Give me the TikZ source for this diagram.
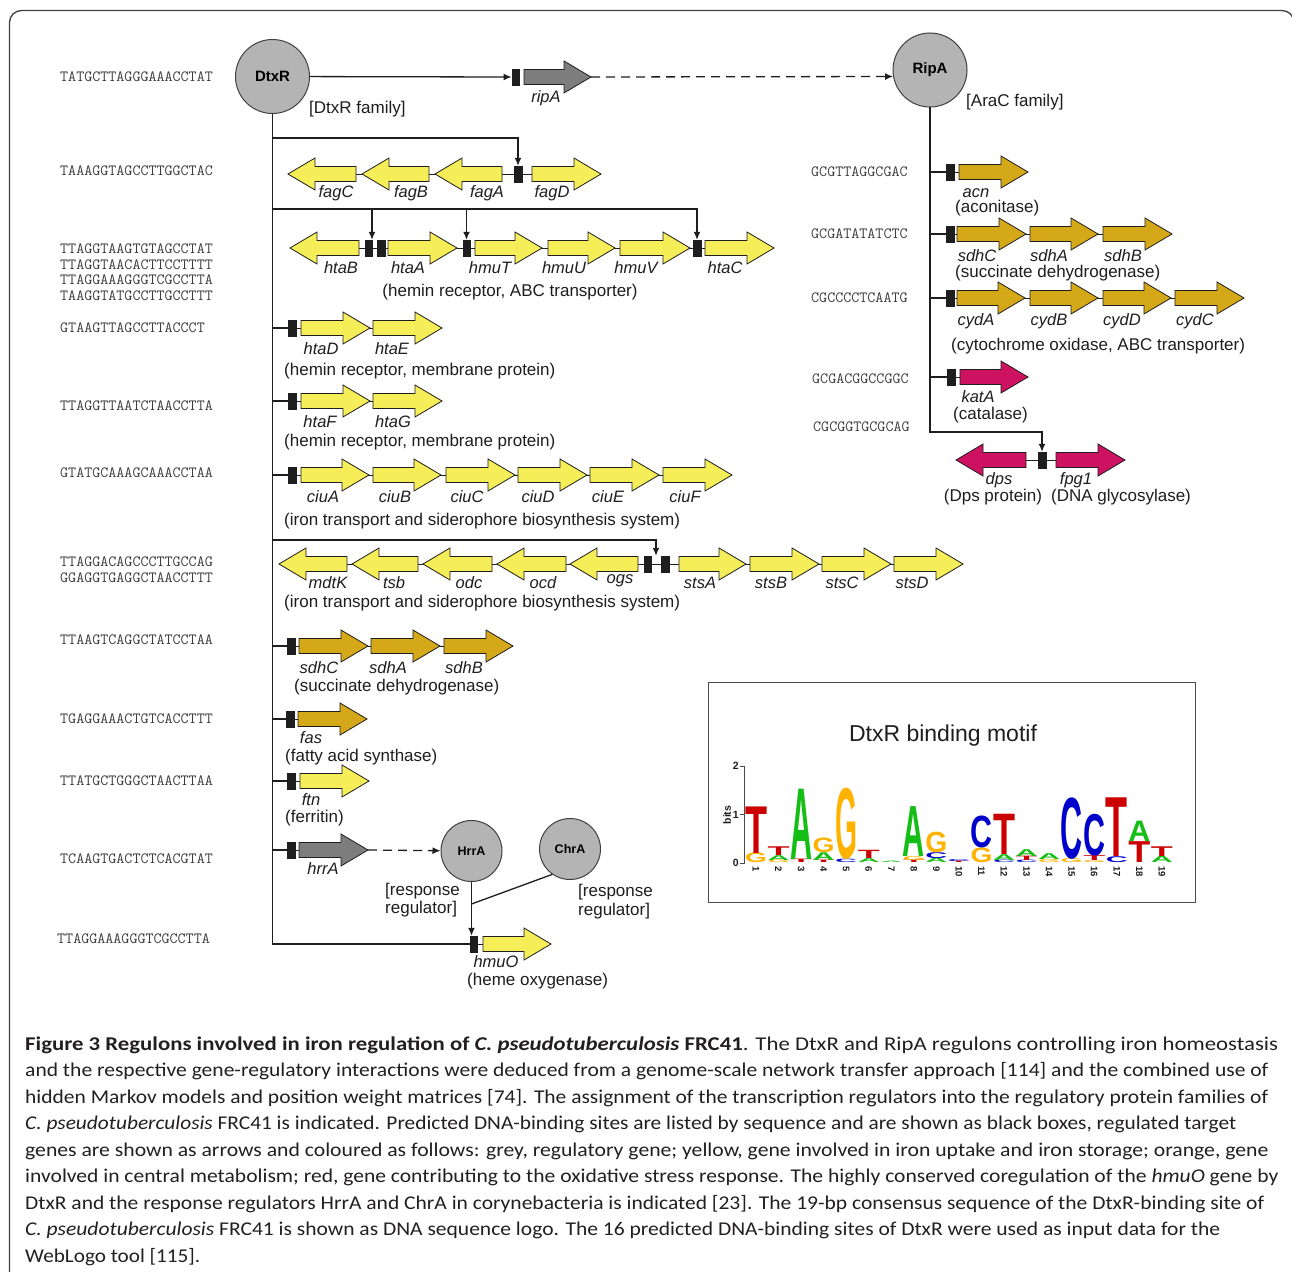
\documentclass[tikz,border=0pt]{standalone}
\usepackage{fontspec}
\setmainfont{Liberation Sans}
\newfontfamily\capf{Carlito}
\usepackage{graphicx}
\usetikzlibrary{arrows.meta}
\definecolor{gy}{RGB}{246,238,88}
\definecolor{go}{RGB}{212,168,24}
\definecolor{gred}{RGB}{204,18,96}
\definecolor{ggray}{RGB}{125,125,125}
\definecolor{cgray}{RGB}{180,180,180}
\definecolor{ink}{RGB}{30,30,30}
\definecolor{seqc}{RGB}{60,60,60}
\definecolor{capc}{RGB}{35,31,32}
\definecolor{LA}{RGB}{20,190,20}
\definecolor{LC}{RGB}{0,0,204}
\definecolor{LG}{RGB}{255,179,0}
\definecolor{LT}{RGB}{204,0,0}
\newcommand\geneR[4]{\filldraw[gene,fill=#4] (#1,{#3-7.5}) -- ({#2-27},{#3-7.5}) -- ({#2-27},{#3-16}) -- (#2,#3) -- ({#2-27},{#3+16}) -- ({#2-27},{#3+7.5}) -- (#1,{#3+7.5}) -- cycle;}
\newcommand\geneL[4]{\filldraw[gene,fill=#4] (#2,{#3-7.5}) -- ({#1+27},{#3-7.5}) -- ({#1+27},{#3-16}) -- (#1,#3) -- ({#1+27},{#3+16}) -- ({#1+27},{#3+7.5}) -- (#2,{#3+7.5}) -- cycle;}
\newcommand\logoL[5]{\pgfmathsetmacro\mylh{#3*48.5}\pgfmathsetmacro\myly{863-#2*48.5}\pgfmathsetmacro\mylx{756+(#1-1)*22.55}\node[anchor=south,inner sep=0,text=#5] at (\mylx,\myly) {\resizebox{22pt}{\mylh pt}{\bfseries #4}};}
\newcommand\capline[3]{\node[anchor=base west,inner sep=0,text=capc] at (25,#1) {\resizebox{#2pt}{\height}{\capf\fontsize{19.5}{22}\selectfont #3}};}
\begin{document}
\begin{tikzpicture}[x=1pt,y=-1pt,
  conn/.style={line width=1.3pt,draw=ink},
  thinl/.style={line width=1pt,draw=ink},
  arr/.style={-{Latex[length=8pt,width=7pt]}},
  gene/.style={draw=ink,line width=0.8pt},
  site/.style={draw=ink,fill=ink,minimum width=7.5pt,minimum height=16pt,inner sep=0,line width=0.4pt},
  reg/.style={circle,draw=ink!85,line width=1pt,fill=cgray,inner sep=0,minimum size=74pt,font=\bfseries\fontsize{15}{15}\selectfont},
  sreg/.style={reg,minimum size=61pt,font=\bfseries\fontsize{12.5}{12.5}\selectfont},
  seq/.style={anchor=west,inner sep=0,font=\ttfamily\fontsize{15.6}{16}\selectfont,text=seqc},
  glab/.style={inner sep=0,font=\itshape\fontsize{16.5}{17}\selectfont,text=ink},
  desc/.style={anchor=west,inner sep=0,font=\fontsize{17}{17}\selectfont,text=ink},
  mono/.style={inner sep=0,font=\bfseries\fontsize{10.5}{11}\selectfont,text=ink}]
\useasboundingbox (0,0) rectangle (1292,1271);
\fill[white] (0,0) rectangle (1292,1271);
% frame
\draw[draw=ink!85,line width=1.3pt,rounded corners=12pt] (9.5,1275) -- (9.5,10.5) -- (1294,10.5) -- (1294,40);

% sequences DtxR
\node[seq] (q1) at (60,77) {TATGCTTAGGGAAACCTAT};
\node[seq] (q2) at (60,171) {TAAAGGTAGCCTTGGCTAC};
\node[seq] (q3) at (60,249) {TTAGGTAAGTGTAGCCTAT};
\node[seq] (q4) at (60,264.5) {TTAGGTAACACTTCCTTTT};
\node[seq] (q5) at (60,280) {TTAGGAAAGGGTCGCCTTA};
\node[seq] (q6) at (60,295.5) {TAAGGTATGCCTTGCCTTT};
\node[seq] (q7) at (60,327.5) {GTAAGTTAGCCTTACCCT};
\node[seq] (q8) at (60,405.5) {TTAGGTTAATCTAACCTTA};
\node[seq] (q9) at (60,473) {GTATGCAAAGCAAACCTAA};
\node[seq] (q10) at (60,562) {TTAGGACAGCCCTTGCCAG};
\node[seq] (q11) at (60,578) {GGAGGTGAGGCTAACCTTT};
\node[seq] (q12) at (60,640) {TTAAGTCAGGCTATCCTAA};
\node[seq] (q13) at (60,718.5) {TGAGGAAACTGTCACCTTT};
\node[seq] (q14) at (60,781) {TTATGCTGGGCTAACTTAA};
\node[seq] (q15) at (60,859) {TCAAGTGACTCTCACGTAT};
\node[seq] (q16) at (57,939) {TTAGGAAAGGGTCGCCTTA};
% sequences RipA
\node[seq] (p1) at (811,172) {GCGTTAGGCGAC};
\node[seq] (p2) at (811,234) {GCGATATATCTC};
\node[seq] (p3) at (811,298) {CGCCCCTCAATG};
\node[seq] (p4) at (812,379) {GCGACGGCCGGC};
\node[seq] (p5) at (813,427) {CGCGGTGCGCAG};

% regulators
\node[reg] (dtxr) at (272.5,76.5) {DtxR};
\node[reg] (ripa) at (930,70) {RipA};
\node[sreg] (hrra) at (471.5,851) {HrrA};
\node[sreg] (chra) at (570,849) {ChrA};
\node[desc] (fam1) at (309,109) {[DtxR family]};
\node[desc] (fam2) at (966,102) {[AraC family]};

% sites
\node[site] (sR) at (515.5,77) {};
\node[site] (sF) at (518,174) {};
\node[site] (sH1) at (368.5,248) {};
\node[site] (sH2) at (381,248) {};
\node[site] (sH3) at (466.5,248) {};
\node[site] (sH4) at (697,248) {};
\node[site] (sD) at (292,328) {};
\node[site] (sG) at (292,401) {};
\node[site] (sC) at (292,475) {};
\node[site] (sS1) at (647.5,564) {};
\node[site] (sS2) at (665,564) {};
\node[site] (sSdh) at (291,646) {};
\node[site] (sFas) at (290,719) {};
\node[site] (sFtn) at (291,781) {};
\node[site] (sHrr) at (291,850) {};
\node[site] (sHmu) at (473.5,944) {};
\node[site] (rAcn) at (950,172) {};
\node[site] (rSdh) at (950,234) {};
\node[site] (rCyd) at (950,298) {};
\node[site] (rKat) at (951,377) {};
\node[site] (rDps) at (1042,460) {};

% junction coordinates
\coordinate (ripAtip) at (591,77);
\coordinate (hrrAtip) at (368,850);
\coordinate (j1) at (272.5,138);
\coordinate (j2) at (272.5,209);
\coordinate (d1) at (372,209);
\coordinate (d2) at (466.5,209);
\coordinate (j3) at (272.5,540);
\coordinate (d3) at (656,540);
\coordinate (j4) at (930,432);
\coordinate (jc) at (471.5,904);

% DtxR connectors
\draw[conn,arr] (dtxr) -- (sR.west);
\draw[conn,dashed,dash pattern=on 9pt off 6pt,arr] (ripAtip) -- (ripa.190);
\draw[conn] (dtxr.south) -- (dtxr.south |- sHmu) -- (sHmu.west);
\draw[conn,arr] (j1) -| (sF.north);
\draw[conn,arr] (j2) -| (sH4.north);
\draw[conn,arr] (d1) -- (d1 |- sH1.north);
\draw[conn,arr] (d2) -- (sH3.north);
\draw[conn,arr] (j3) -- (d3) -- (d3 |- sS1.north);
\draw[conn] (dtxr.south |- sD) -- (sD.west);
\draw[conn] (dtxr.south |- sG) -- (sG.west);
\draw[conn] (dtxr.south |- sC) -- (sC.west);
\draw[conn] (dtxr.south |- sSdh) -- (sSdh.west);
\draw[conn] (dtxr.south |- sFas) -- (sFas.west);
\draw[conn] (dtxr.south |- sFtn) -- (sFtn.west);
\draw[conn] (dtxr.south |- sHrr) -- (sHrr.west);
\draw[conn,dashed,dash pattern=on 9pt off 6pt,arr] (hrrAtip) -- (hrra);
\draw[conn,arr] (hrra.south) -- (hrra.south |- sHmu.north);
\draw[conn] (chra.235) -- (jc);
% RipA connectors
\draw[conn,arr] (ripa.south) -- (j4) -| (rDps.north);
\draw[conn] (ripa.south |- rAcn) -- (rAcn.west);
\draw[conn] (ripa.south |- rSdh) -- (rSdh.west);
\draw[conn] (ripa.south |- rCyd) -- (rCyd.west);
\draw[conn] (ripa.south |- rKat) -- (rKat.west);

% row through lines
\draw[thinl] (340,174) -- (540,174);
\draw[thinl] (340,248) -- (710,248);
\draw[thinl] (sD) -- (380,328);
\draw[thinl] (sG) -- (380,401);
\draw[thinl] (sC) -- (700,475);
\draw[thinl] (330,564) -- (690,564);
\draw[thinl] (690,564) -- (930,564);
\draw[thinl] (sSdh) -- (480,646);
\draw[thinl] (sFas) -- (310,719);
\draw[thinl] (sFtn) -- (310,781);
\draw[thinl] (sHrr) -- (310,850);
\draw[thinl] (sHmu) -- (490,944);
\draw[thinl] (rAcn) -- (970,172);
\draw[thinl] (rSdh) -- (1150,234);
\draw[thinl] (rCyd) -- (1220,298);
\draw[thinl] (rKat) -- (970,377);
\draw[thinl] (1010,460) -- (1070,460);

% genes DtxR
\geneR{524}{591}{77}{ggray}
\geneL{288}{356}{174}{gy}\geneL{362}{429}{174}{gy}\geneL{435}{502}{174}{gy}\geneR{532}{601}{174}{gy}
\geneL{290}{359}{248}{gy}\geneR{388}{457}{248}{gy}\geneR{475}{542}{248}{gy}\geneR{548}{615}{248}{gy}\geneR{620}{690}{248}{gy}\geneR{705}{774}{248}{gy}
\geneR{301}{370}{328}{gy}\geneR{373}{442}{328}{gy}
\geneR{301}{370}{401}{gy}\geneR{373}{442}{401}{gy}
\geneR{301}{369}{475}{gy}\geneR{373}{441}{475}{gy}\geneR{446}{515}{475}{gy}\geneR{518}{587}{475}{gy}\geneR{590}{659}{475}{gy}\geneR{663}{732}{475}{gy}
\geneL{279}{347}{564}{gy}\geneL{352}{418}{564}{gy}\geneL{423}{492}{564}{gy}\geneL{497}{566}{564}{gy}\geneL{570}{638}{564}{gy}
\geneR{679}{746}{564}{gy}\geneR{750}{819}{564}{gy}\geneR{822}{891}{564}{gy}\geneR{894}{963}{564}{gy}
\geneR{299}{368}{646}{go}\geneR{371}{440}{646}{go}\geneR{444}{513}{646}{go}
\geneR{298}{367}{719}{go}
\geneR{300}{369}{781}{gy}
\geneR{299}{368}{850}{ggray}
\geneR{483}{551}{944}{gy}
% genes RipA
\geneR{959}{1028}{172}{go}
\geneR{957}{1026}{234}{go}\geneR{1030}{1098}{234}{go}\geneR{1103}{1172}{234}{go}
\geneR{957}{1025}{298}{go}\geneR{1030}{1098}{298}{go}\geneR{1103}{1171}{298}{go}\geneR{1175}{1244}{298}{go}
\geneR{960}{1028}{377}{gred}
\geneL{956}{1026}{460}{gred}\geneR{1056}{1125}{460}{gred}

% redraw sites on top
\foreach \s in {sR,sF,sH1,sH2,sH3,sH4,sD,sG,sC,sS1,sS2,sSdh,sFas,sFtn,sHrr,sHmu,rAcn,rSdh,rCyd,rKat,rDps}
  \fill[ink] (\s.south west) rectangle (\s.north east);

% gene labels
\node[glab] (l1) at (546,98) {ripA};
\node[glab] (l2) at (336,193) {fagC};
\node[glab] (l3) at (411,193) {fagB};
\node[glab] (l4) at (487,193) {fagA};
\node[glab] (l5) at (552,193) {fagD};
\node[glab] (l6) at (341,268) {htaB};
\node[glab] (l7) at (408,268) {htaA};
\node[glab] (l8) at (490,268) {hmuT};
\node[glab] (l9) at (564,268) {hmuU};
\node[glab] (l10) at (636,268) {hmuV};
\node[glab] (l11) at (725,268) {htaC};
\node[desc,anchor=center] (t1) at (510,292) {(hemin receptor, ABC transporter)};
\node[glab] (l12) at (321,349) {htaD};
\node[glab] (l13) at (392,349) {htaE};
\node[desc] (t2) at (284,371) {(hemin receptor, membrane protein)};
\node[glab] (l14) at (320,422) {htaF};
\node[glab] (l15) at (393,422) {htaG};
\node[desc] (t3) at (284,442) {(hemin receptor, membrane protein)};
\node[glab] (l16) at (323,497) {ciuA};
\node[glab] (l17) at (395,497) {ciuB};
\node[glab] (l18) at (467,497) {ciuC};
\node[glab] (l19) at (538,497) {ciuD};
\node[glab] (l20) at (608,497) {ciuE};
\node[glab] (l21) at (685,497) {ciuF};
\node[desc] (t4) at (284,521) {(iron transport and siderophore biosynthesis system)};
\node[glab] (l22) at (328,583) {mdtK};
\node[glab] (l23) at (394,583) {tsb};
\node[glab] (l24) at (469,583) {odc};
\node[glab] (l25) at (543,583) {ocd};
\node[glab] (l26) at (620,581) {ogs};
\node[glab] (l27) at (700,583) {stsA};
\node[glab] (l28) at (771,583) {stsB};
\node[glab] (l29) at (842,583) {stsC};
\node[glab] (l30) at (912,583) {stsD};
\node[desc] (t5) at (284,603) {(iron transport and siderophore biosynthesis system)};
\node[glab] (l31) at (319,668) {sdhC};
\node[glab] (l32) at (388,668) {sdhA};
\node[glab] (l33) at (464,668) {sdhB};
\node[desc] (t6) at (294,687) {(succinate dehydrogenase)};
\node[glab] (l34) at (311,738) {fas};
\node[desc] (t7) at (285,757) {(fatty acid synthase)};
\node[glab] (l35) at (311,800) {ftn};
\node[desc] (t8) at (285,818) {(ferritin)};
\node[glab] (l36) at (323,869) {hrrA};
\node[desc] (t9) at (385,891) {[response};
\node[desc] (t10) at (385,909) {regulator]};
\node[desc] (t11) at (578,892) {[response};
\node[desc] (t12) at (578,911) {regulator]};
\node[glab] (l37) at (496,962) {hmuO};
\node[desc] (t13) at (467,981) {(heme oxygenase)};
% RipA labels
\node[glab] (m1) at (976,193) {acn};
\node[desc] (u1) at (955,208) {(aconitase)};
\node[glab] (m2) at (977,256) {sdhC};
\node[glab] (m3) at (1049,256) {sdhA};
\node[glab] (m4) at (1123,256) {sdhB};
\node[desc] (u2) at (955,273) {(succinate dehydrogenase)};
\node[glab] (m5) at (976,321) {cydA};
\node[glab] (m6) at (1049,321) {cydB};
\node[glab] (m7) at (1122,321) {cydD};
\node[glab] (m8) at (1195,321) {cydC};
\node[desc] (u3) at (951,346) {(cytochrome oxidase, ABC transporter)};
\node[glab] (m9) at (978,397) {katA};
\node[desc] (u4) at (953,415) {(catalase)};
\node[glab] (m10) at (999,480) {dps};
\node[glab] (m11) at (1076,480) {fpg1};
\node[desc,anchor=center] (u5) at (993,497) {(Dps protein)};
\node[desc,anchor=center] (u6) at (1121,497) {(DNA glycosylase)};

% motif logo
\draw[draw=ink!80,line width=1pt] (708,682) rectangle (1195,902);
\node[inner sep=0,font=\fontsize{23}{23}\selectfont,text=ink] (mt) at (943,736) {DtxR binding motif};
\draw[draw=ink!80,line width=0.9pt] (744.5,766) -- (744.5,863);
\foreach \yy in {766,814.5,863} \draw[draw=ink!80,line width=0.9pt] (740,\yy) -- (744.5,\yy);
\node[mono,anchor=east] (ax2) at (739,766) {2};
\node[mono,anchor=east] (ax1) at (739,814.5) {1};
\node[mono,anchor=east] (ax0) at (739,863) {0};
\node[mono,rotate=90] (bits) at (727,815) {bits};
\foreach \n in {1,...,19} \node[mono,rotate=-90,anchor=west,font=\bfseries\fontsize{9.5}{10}\selectfont] at ({756+(\n-1)*22.55},866) {\n};
\logoL{1}{0}{0.2}{G}{LG}\logoL{1}{0.2}{0.96}{T}{LT}
\logoL{2}{0}{0.05}{G}{LG}\logoL{2}{0.05}{0.1}{A}{LA}\logoL{2}{0.15}{0.18}{T}{LT}
\logoL{3}{0}{0.07}{T}{LT}\logoL{3}{0.07}{1.45}{A}{LA}
\logoL{4}{0}{0.05}{T}{LT}\logoL{4}{0.05}{0.16}{A}{LA}\logoL{4}{0.21}{0.3}{G}{LG}
\logoL{5}{0}{0.07}{C}{LC}\logoL{5}{0.07}{1.45}{G}{LG}
\logoL{6}{0}{0.08}{A}{LA}\logoL{6}{0.08}{0.17}{T}{LT}
\logoL{7}{0}{0.03}{A}{LA}
\logoL{8}{0}{0.05}{T}{LT}\logoL{8}{0.05}{0.08}{G}{LG}\logoL{8}{0.13}{1.03}{A}{LA}
\logoL{9}{0}{0.09}{A}{LA}\logoL{9}{0.09}{0.12}{C}{LC}\logoL{9}{0.21}{0.42}{G}{LG}
\logoL{10}{0}{0.03}{T}{LT}\logoL{10}{0.03}{0.04}{C}{LC}
\logoL{11}{0}{0.3}{G}{LG}\logoL{11}{0.3}{0.65}{C}{LC}
\logoL{12}{0}{0.05}{C}{LC}\logoL{12}{0.05}{0.12}{A}{LA}\logoL{12}{0.17}{0.83}{T}{LT}
\logoL{13}{0}{0.05}{C}{LC}\logoL{13}{0.05}{0.09}{T}{LT}\logoL{13}{0.14}{0.14}{A}{LA}
\logoL{14}{0}{0.06}{G}{LG}\logoL{14}{0.06}{0.12}{A}{LA}
\logoL{15}{0}{0.08}{G}{LG}\logoL{15}{0.08}{1.25}{C}{LC}
\logoL{16}{0}{0.04}{G}{LG}\logoL{16}{0.04}{0.1}{T}{LT}\logoL{16}{0.14}{0.85}{C}{LC}
\logoL{17}{0}{0.12}{C}{LC}\logoL{17}{0.12}{1.21}{T}{LT}
\logoL{18}{0}{0.43}{T}{LT}\logoL{18}{0.43}{0.42}{A}{LA}
\logoL{19}{0}{0.13}{A}{LA}\logoL{19}{0.13}{0.2}{T}{LT}

% caption
\capline{1050}{1253}{\bfseries Figure 3 Regulons involved in iron regulation of \textit{C. pseudotuberculosis} FRC41\mdseries. The DtxR and RipA regulons controlling iron homeostasis}
\capline{1076.5}{1243}{and the respective gene-regulatory interactions were deduced from a genome-scale network transfer approach [114] and the combined use of}
\capline{1103}{1243}{hidden Markov models and position weight matrices [74]. The assignment of the transcription regulators into the regulatory protein families of}
\capline{1129.5}{1211}{\textit{C. pseudotuberculosis} FRC41 is indicated. Predicted DNA-binding sites are listed by sequence and are shown as black boxes, regulated target}
\capline{1156}{1243}{genes are shown as arrows and coloured as follows: grey, regulatory gene; yellow, gene involved in iron uptake and iron storage; orange, gene}
\capline{1182.5}{1253}{involved in central metabolism; red, gene contributing to the oxidative stress response. The highly conserved coregulation of the \textit{hmuO} gene by}
\capline{1209}{1239}{DtxR and the response regulators HrrA and ChrA in corynebacteria is indicated [23]. The 19-bp consensus sequence of the DtxR-binding site of}
\capline{1235.5}{1195}{\textit{C. pseudotuberculosis} FRC41 is shown as DNA sequence logo. The 16 predicted DNA-binding sites of DtxR were used as input data for the}
\capline{1262}{175}{WebLogo tool [115].}
\end{tikzpicture}
\end{document}
